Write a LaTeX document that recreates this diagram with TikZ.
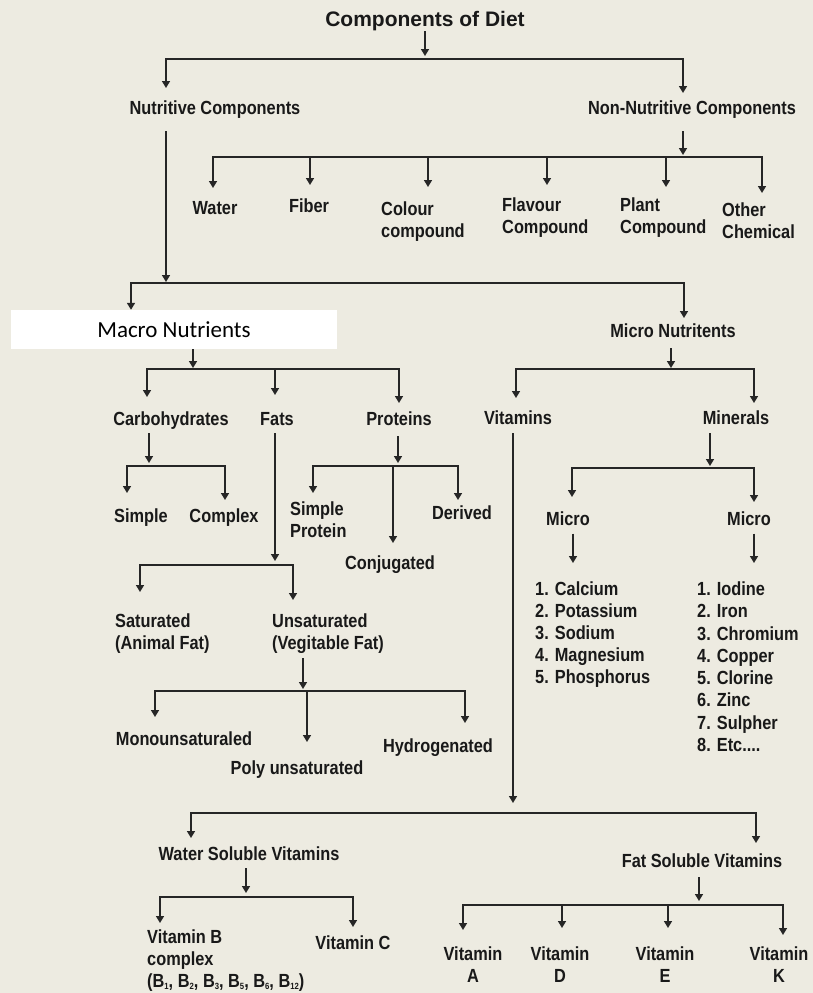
\documentclass[tikz,border=0pt]{standalone}
\usepackage{fontspec}
\usetikzlibrary{arrows.meta,calc}
\newfontfamily\lab{Liberation Sans}[FakeStretch=0.86]
\newfontfamily\ttl{Liberation Sans}
\newfontfamily\calib{Carlito}
\definecolor{bgc}{RGB}{237,235,225}
\definecolor{txt}{RGB}{25,25,25}
\definecolor{lnc}{RGB}{38,38,38}
\newcommand{\bsub}[1]{\raisebox{-1.5pt}{\fontsize{9}{9}\selectfont #1}}
\begin{document}
\begin{tikzpicture}[x=1pt,y=-1pt,
  lbl/.style={font=\lab\bfseries\fontsize{19}{22.5}\selectfont, text=txt, inner sep=0pt, anchor=north, text height=13.6pt, text depth=4pt},
  mlbl/.style={font=\lab\bfseries\fontsize{19}{22.5}\selectfont, text=txt, inner sep=0pt, anchor=north west, align=left},
  clbl/.style={mlbl, anchor=north, align=center},
  ln/.style={draw=lnc, line width=1.6pt, line cap=rect},
  arr/.style={draw=lnc, line width=1.6pt, -{Triangle[width=8pt,length=7pt]}}]
\fill[bgc] (0,0) rectangle (813,993);
\useasboundingbox (0,0) rectangle (813,993);

% ---------- nodes ----------
\node[lbl, font=\ttl\bfseries\fontsize{21}{25}\selectfont, text height=15pt, text depth=4.5pt] (title) at (425,11.5) {Components of Diet};
\node[lbl] (nc) at (215,100.5) {Nutritive Components};
\node[lbl] (nnc) at (692,100.5) {Non-Nutritive Components};
\node[lbl] (water) at (215,200.5) {Water};
\node[lbl] (fiber) at (309,198.5) {Fiber};
\node[mlbl] (colour) at (381,201.5) {Colour\\compound};
\node[mlbl] (flavour) at (502,197.5) {Flavour\\Compound};
\node[mlbl] (plant) at (620,197.5) {Plant\\Compound};
\node[mlbl] (other) at (722,202.5) {Other\\Chemical};

\node[fill=white, minimum width=326pt, minimum height=39pt, inner sep=0pt, font=\calib\fontsize{23}{27}\selectfont, text=black] (macro) at (174,329.5) {Macro Nutrients};
\node[lbl] (micro) at (673,323.5) {Micro Nutritents};

\node[lbl] (carb) at (171,411.5) {Carbohydrates};
\node[lbl] (fats) at (277,411.5) {Fats};
\node[lbl] (prot) at (399,411.5) {Proteins};
\node[lbl] (vit) at (518,410.5) {Vitamins};
\node[lbl] (min) at (736,410.5) {Minerals};

\node[lbl] (simple) at (141,508.5) {Simple};
\node[lbl] (complex) at (224,508.5) {Complex};
\node[mlbl] (sprot) at (290,501.5) {Simple\\Protein};
\node[lbl] (conj) at (390,555.5) {Conjugated};
\node[lbl] (der) at (462,505.5) {Derived};

\node[lbl] (microL) at (568,511.5) {Micro};
\node[lbl] (microR) at (749,511.5) {Micro};
\node[mlbl, font=\lab\bfseries\fontsize{19}{22}\selectfont] (listL) at (535,581.5) {1. Calcium\\2. Potassium\\3. Sodium\\4. Magnesium\\5. Phosphorus};
\node[mlbl, font=\lab\bfseries\fontsize{19}{22.3}\selectfont] (listR) at (697,581.5) {1. Iodine\\2. Iron\\3. Chromium\\4. Copper\\5. Clorine\\6. Zinc\\7. Sulpher\\8. Etc....};

\node[mlbl] (sat) at (115,613.5) {Saturated\\(Animal Fat)};
\node[mlbl] (unsat) at (272,613.5) {Unsaturated\\(Vegitable Fat)};
\node[lbl] (mono) at (184,731.5) {Monounsaturaled};
\node[lbl] (poly) at (297,760.5) {Poly unsaturated};
\node[lbl] (hydro) at (438,738.5) {Hydrogenated};

\node[lbl] (ws) at (249,846.5) {Water Soluble Vitamins};
\node[lbl] (fs) at (702,853.5) {Fat Soluble Vitamins};
\node[mlbl, font=\lab\bfseries\fontsize{19}{22}\selectfont] (vitB) at (147,930) {Vitamin B\\complex\\(B\bsub{1}, B\bsub{2}, B\bsub{3}, B\bsub{5}, B\bsub{6}, B\bsub{12})};
\node[lbl] (vitC) at (353,935.5) {Vitamin C};
\node[clbl] (vitA) at (473,946.5) {Vitamin\\A};
\node[clbl] (vitD) at (560,946.5) {Vitamin\\D};
\node[clbl] (vitE) at (665,946.5) {Vitamin\\E};
\node[clbl] (vitK) at (779,946.5) {Vitamin\\K};

% ---------- level 1 ----------
\coordinate (b1L) at (166,59); \coordinate (b1R) at (683,59);
\draw[ln] (b1L) -- (b1R);
\draw[arr, shorten >=3pt] (title.south) -- (title.south |- b1L);
\draw[arr, shorten >=12.5pt] (b1L) -- (b1L |- nc.north);
\draw[arr, shorten >=7.5pt] (b1R) -- (b1R |- nnc.north);

% ---------- non-nutritive ----------
\coordinate (b2L) at (213,157); \coordinate (b2R) at (762,157); \coordinate (b2c) at (683,157);
\coordinate (b2f) at (310,157); \coordinate (b2co) at (428,157); \coordinate (b2fl) at (547,157); \coordinate (b2p) at (666,157);
\draw[ln] (b2L) -- (b2R);
\draw[arr, shorten <=12.5pt, shorten >=2pt] (b2c |- nnc.south) -- (b2c);
\draw[arr, shorten >=12.5pt] (b2L) -- (b2L |- water.north);
\draw[arr, shorten >=13.5pt] (b2f) -- (b2f |- fiber.north);
\draw[arr, shorten >=14.5pt] (b2co) -- (b2co |- colour.north);
\draw[arr, shorten >=12.5pt] (b2fl) -- (b2fl |- flavour.north);
\draw[arr, shorten >=10.5pt] (b2p) -- (b2p |- plant.north);
\draw[arr, shorten >=9.5pt] (b2R) -- (b2R |- other.north);

% ---------- nutritive ----------
\coordinate (b3L) at (131,283); \coordinate (b3R) at (684,283); \coordinate (b3c) at (166,283);
\draw[ln] (b3L) -- (b3R);
\draw[arr, shorten <=12.5pt, shorten >=1pt] (b3c |- nc.south) -- (b3c);
\draw[arr] (b3L) -- (b3L |- macro.north);
\draw[arr, shorten >=5.5pt] (b3R) -- (b3R |- micro.north);

% ---------- macro ----------
\coordinate (b4L) at (147,369); \coordinate (b4R) at (399,369); \coordinate (b4c) at (193,369); \coordinate (b4f) at (275,369);
\draw[ln] (b4L) -- (b4R);
\draw[arr, shorten >=1pt] (b4c |- macro.south) -- (b4c);
\draw[arr, shorten >=14.5pt] (b4L) -- (b4L |- carb.north);
\draw[arr, shorten >=16.5pt] (b4f) -- (b4f |- fats.north);
\draw[arr, shorten >=8.5pt] (b4R) -- (b4R |- prot.north);

% ---------- micro ----------
\coordinate (b5L) at (516,369); \coordinate (b5R) at (754,369); \coordinate (b5c) at (671,369);
\draw[ln] (b5L) -- (b5R);
\draw[arr, shorten <=6.5pt, shorten >=1pt] (b5c |- micro.south) -- (b5c);
\draw[arr, shorten >=12.5pt] (b5L) -- (b5L |- vit.north);
\draw[arr, shorten >=7.5pt] (b5R) -- (b5R |- min.north);

% ---------- carbohydrates ----------
\coordinate (b6L) at (127,466); \coordinate (b6R) at (225,466); \coordinate (b6c) at (149,466);
\draw[ln] (b6L) -- (b6R);
\draw[arr, shorten <=3.5pt, shorten >=3pt] (b6c |- carb.south) -- (b6c);
\draw[arr, shorten >=15.5pt] (b6L) -- (b6L |- simple.north);
\draw[arr, shorten >=8.5pt] (b6R) -- (b6R |- complex.north);

% ---------- proteins ----------
\coordinate (b7L) at (313,466); \coordinate (b7R) at (458,466); \coordinate (b7c) at (398,466); \coordinate (b7m) at (393,466);
\draw[ln] (b7L) -- (b7R);
\draw[arr, shorten <=6.5pt, shorten >=3pt] (b7c |- prot.south) -- (b7c);
\draw[arr, shorten >=8.5pt] (b7L) -- (b7L |- sprot.north);
\draw[arr, shorten >=12.5pt] (b7m) -- (b7m |- conj.north);
\draw[arr, shorten >=5.5pt] (b7R) -- (b7R |- der.north);

% ---------- fats ----------
\coordinate (b8L) at (140,565); \coordinate (b8R) at (293,565); \coordinate (b8c) at (275,565);
\draw[ln] (b8L) -- (b8R);
\draw[arr, shorten <=3.5pt, shorten >=4pt] (b8c |- fats.south) -- (b8c);
\draw[arr, shorten >=21.5pt] (b8L) -- (b8L |- sat.north);
\draw[arr, shorten >=13.5pt] (b8R) -- (b8R |- unsat.north);

% ---------- unsaturated ----------
\coordinate (b9L) at (155,691); \coordinate (b9R) at (465,691); \coordinate (b9c) at (303,691); \coordinate (b9p) at (307,691);
\draw[ln] (b9L) -- (b9R);
\draw[arr, shorten <=4pt, shorten >=2pt] (b9c |- unsat.south) -- (b9c);
\draw[arr, shorten >=14.5pt] (b9L) -- (b9L |- mono.north);
\draw[arr, shorten >=18.5pt] (b9p) -- (b9p |- poly.north);
\draw[arr, shorten >=15.5pt] (b9R) -- (b9R |- hydro.north);

% ---------- minerals ----------
\coordinate (b10L) at (572,468); \coordinate (b10R) at (754,468); \coordinate (b10c) at (710,468);
\draw[ln] (b10L) -- (b10R);
\draw[arr, shorten <=4.5pt, shorten >=2pt] (b10c |- min.south) -- (b10c);
\draw[arr, shorten >=14.5pt] (b10L) -- (b10L |- microL.north);
\draw[arr, shorten >=9.5pt] (b10R) -- (b10R |- microR.north);
\coordinate (mLx) at (573,532); \coordinate (mRx) at (754,532);
\draw[arr, shorten <=4pt, shorten >=18.5pt] (mLx |- microL.south) -- (mLx |- listL.north);
\draw[arr, shorten <=4pt, shorten >=18.5pt] (mRx |- microR.south) -- (mRx |- listR.north);

% ---------- vitamins ----------
\coordinate (b11L) at (191,813); \coordinate (b11R) at (756,813); \coordinate (b11c) at (513,813);
\draw[ln] (b11L) -- (b11R);
\draw[arr, shorten <=4.5pt, shorten >=10pt] (b11c |- vit.south) -- (b11c);
\draw[arr, shorten >=8.5pt] (b11L) -- (b11L |- ws.north);
\draw[arr, shorten >=10.5pt] (b11R) -- (b11R |- fs.north);

% ---------- water soluble ----------
\coordinate (b12L) at (160,897); \coordinate (b12R) at (353,897); \coordinate (b12c) at (246,897);
\draw[ln] (b12L) -- (b12R);
\draw[arr, shorten <=3.5pt, shorten >=4pt] (b12c |- ws.south) -- (b12c);
\draw[arr, shorten >=7pt] (b12L) -- (b12L |- vitB.north);
\draw[arr, shorten >=8.5pt] (b12R) -- (b12R |- vitC.north);

% ---------- fat soluble ----------
\coordinate (b13L) at (463,905); \coordinate (b13R) at (783,905); \coordinate (b13c) at (699,905);
\coordinate (b13d) at (562,905); \coordinate (b13e) at (668,905);
\draw[ln] (b13L) -- (b13R);
\draw[arr, shorten <=5.5pt, shorten >=4pt] (b13c |- fs.south) -- (b13c);
\draw[arr, shorten >=16.5pt] (b13L) -- (b13L |- vitA.north);
\draw[arr, shorten >=18.5pt] (b13d) -- (b13d |- vitD.north);
\draw[arr, shorten >=18.5pt] (b13e) -- (b13e |- vitE.north);
\draw[arr, shorten >=11.5pt] (b13R) -- (b13R |- vitK.north);
\end{tikzpicture}
\end{document}
